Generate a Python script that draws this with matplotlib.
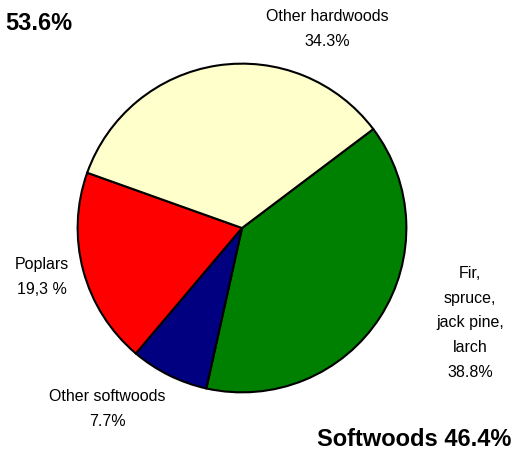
import matplotlib
matplotlib.use("Agg")
import matplotlib.pyplot as plt

# ======= DATA =======
labels = ["Fir,\nspruce,\njack pine,\nlarch\n38.8%", "Other softwoods\n7.7%",
          "Poplars\n19,3 %", "Other hardwoods\n34.3%"]
shares = [38.8, 7.7, 19.3, 34.3]
colors = ["#008000", "#000080", "#ff0000", "#ffffcc"]
hardwood_total = "53.6%"
softwood_total = "Softwoods 46.4%"

plt.rcParams['font.family'] = ['Liberation Sans Narrow', 'Liberation Sans', 'DejaVu Sans']

W, H = 516, 455
fig = plt.figure(figsize=(W / 100, H / 100), dpi=100)

# pie centred at (242, 228) px with radius 166 px
cx, cy, r = 242, 228, 166
ax = fig.add_axes([(cx - r) / W, 1 - (cy + r) / H, 2 * r / W, 2 * r / H])
ax.pie(shares, colors=colors, startangle=37, counterclock=False,
       wedgeprops=dict(edgecolor="black", linewidth=1.5))
ax.set_xlim(-1.01, 1.01)
ax.set_ylim(-1.01, 1.01)
ax.set_aspect("equal")
ax.axis("off")


def px_text(x, y, s, **kw):
    fig.text(x / W, 1 - y / H, s, **kw)


label_pos = [(470, 323), (107, 409), (42, 277), (327, 29)]
for (x, y), lab in zip(label_pos, labels):
    px_text(x, y, lab, ha="center", va="center", fontsize=11.5, linespacing=1.8)

px_text(5, 23, hardwood_total, ha="left", va="center", fontsize=17, fontweight="bold")
px_text(511, 440, softwood_total, ha="right", va="center", fontsize=17, fontweight="bold")

fig.savefig("out.png", dpi=100)
